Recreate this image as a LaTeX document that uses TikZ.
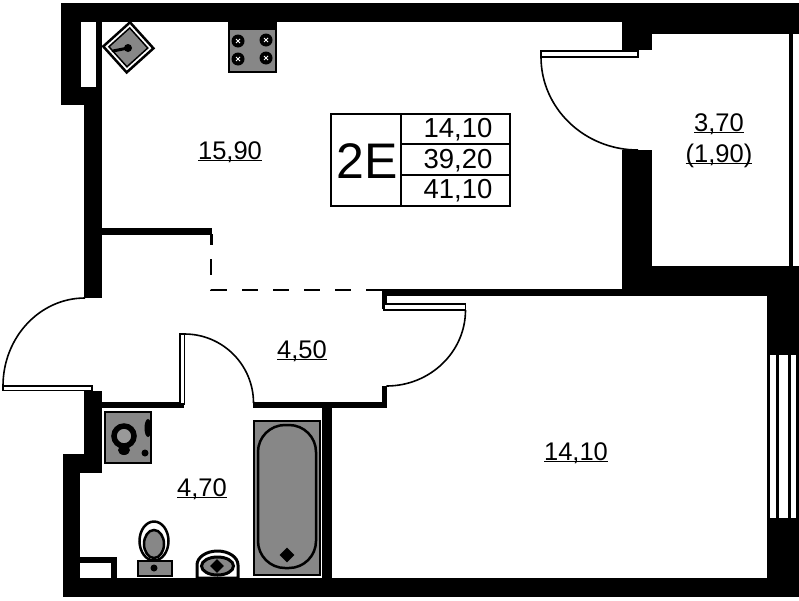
\documentclass[tikz,border=0pt]{standalone}
\usepackage{fontspec}
\setmainfont{Liberation Sans}
\usetikzlibrary{shapes.geometric}
\newcommand{\areatext}[1]{\underline{\smash{#1}}}
\begin{document}
\begin{tikzpicture}[
  x=1pt,
  y=-1pt,
  wall/.style={fill=black},
  leaf/.style={fill=white, draw=black, line width=1.5pt},
  swing/.style={draw=black, line width=1.6pt},
  fixture/.style={fill=black!47, draw=black, line width=1.5pt},
  burnermark/.style={draw=white, line width=0.8pt},
  area/.style={font=\fontsize{25.5}{28}\selectfont, inner sep=0pt},
  cellnum/.style={font=\fontsize{27.5}{28}\selectfont, inner sep=0pt}
]
\useasboundingbox (0,0) rectangle (799,600);
\fill[white] (0,0) rectangle (799,600);
\fill[wall] (61,3) rectangle (799,22);
\fill[wall] (622,22) rectangle (799,34);
\fill[wall] (622,34) rectangle (652,50);
\fill[wall] (622,150) rectangle (652,296);
\fill[wall] (652,266) rectangle (799,296);
\fill[wall] (789,34) rectangle (793,266);
\fill[wall] (61,22) rectangle (81,105);
\fill[wall] (96,22) rectangle (102,105);
\fill[wall] (81,87) rectangle (96,105);
\fill[wall] (84,105) rectangle (102,298);
\fill[wall] (102,228) rectangle (212,234.5);
\fill[wall] (210,234) rectangle (212.5,245);
\fill[wall] (84,391) rectangle (102,473);
\fill[wall] (63,454) rectangle (84,473);
\fill[wall] (63,473) rectangle (80,597);
\fill[wall] (63,578) rectangle (799,597);
\fill[wall] (80,557) rectangle (117,563);
\fill[wall] (111,563) rectangle (117,578);
\fill[wall] (102,402) rectangle (184,408);
\fill[wall] (253,402) rectangle (387,408);
\fill[wall] (322,408) rectangle (332,578);
\fill[wall] (382,289) rectangle (767,296);
\fill[wall] (382,296) rectangle (387,309);
\fill[wall] (382,386) rectangle (387,402);
\fill[wall] (767,296) rectangle (799,355);
\fill[wall] (767,518) rectangle (799,578);
\fill[wall] (767,355) rectangle (770,518);
\fill[wall] (776,355) rectangle (779,518);
\fill[wall] (787.5,355) rectangle (790.5,518);
\fill[wall] (796,355) rectangle (799,518);
\draw[line width=1.5pt, dash pattern=on 16pt off 15pt] (211,259) -- (211,290) -- (382,290);
\filldraw[leaf] (541,51) rectangle (638,57);
\draw[swing] (541,57) arc (180:90:97 and 93);
\filldraw[leaf] (384,304) rectangle (465.5,310);
\draw[swing] (465.5,310) arc (0:90:79 and 76);
\filldraw[leaf] (3,386) rectangle (92,390.5);
\draw[swing] (3,386) arc (180:270:82 and 88);
\filldraw[leaf] (180,334) rectangle (184.5,404);
\draw[swing] (184.5,334) arc (270:360:69);
\filldraw[fill=white, draw=black, line width=2.5pt, rotate around={42:(128,47)}] (110,30) rectangle (146,65);
\filldraw[fixture, rotate around={42:(128,47)}] (114,34) rectangle (142,61);
\draw[line width=3pt, line cap=round] (113,51) -- (128,48);
\fill (128,48) circle (4);
\filldraw[fixture] (229,23) rectangle (276,72);
\fill[wall] (228,22) rectangle (277,30);
\fill (238,41) circle (6.5);
\fill (266,40) circle (6.5);
\fill (238,59) circle (6.5);
\fill (266,58) circle (6.5);
\draw[burnermark] (236,39) -- (240,43) (236,43) -- (240,39);
\draw[burnermark] (264,38) -- (268,42) (264,42) -- (268,38);
\draw[burnermark] (236,57) -- (240,61) (236,61) -- (240,57);
\draw[burnermark] (264,56) -- (268,60) (264,60) -- (268,56);
\filldraw[fixture] (105,412) rectangle (151,463);
\draw[line width=5.5pt, fill=black!40] (124,436) circle (10);
\fill (124,450) ellipse (6 and 5);
\fill (145,453) circle (3.5);
\fill (148,428) ellipse (3.5 and 9);
\filldraw[fixture] (254,421) rectangle (320,575);
\draw[line width=2.5pt, rounded corners=27pt] (258,425) rectangle (316,568);
\node[diamond, fill=black, minimum size=15pt, inner sep=0pt] (bathplug) at (287,555) {};
\filldraw[fill=white, draw=black, line width=2.5pt] (154,541) ellipse (14.5 and 19.5);
\filldraw[fixture, line width=2.5pt] (154,544) ellipse (10 and 14);
\filldraw[fixture] (138,561) rectangle (172,576);
\fill (154,568) circle (3.5);
\filldraw[fill=white, draw=black, line width=3pt] (197,578) -- (197,565) arc (180:360:20.5 and 14) -- (238,578) -- cycle;
\filldraw[fixture, line width=3pt] (217.5,566) ellipse (16 and 9);
\node[diamond, fill=black, minimum size=14pt, inner sep=0pt] (sinkplug) at (217,566) {};
\fill[wall] (195,578) rectangle (239,597);
\draw[line width=1.5pt] (331,114) rectangle (510,206);
\draw[line width=1.5pt] (401,114) -- (401,206);
\draw[line width=2pt] (401,144) -- (510,144);
\draw[line width=1.5pt] (401,175) -- (510,175);
\node[font=\fontsize{50}{54}\selectfont, inner sep=0pt] (flatcode) at (367,161) {2E};
\node[cellnum] (arealiving) at (458,130) {14,10};
\node[cellnum] (areaflat) at (458,161) {39,20};
\node[cellnum] (areatotal) at (458,191) {41,10};
\node[area] (kitchen) at (230,160) {\areatext{15,90}};
\node[area] (hall) at (302,359) {\areatext{4,50}};
\node[area] (bath) at (202,497) {\areatext{4,70}};
\node[area] (bedroom) at (576,461) {\areatext{14,10}};
\node[area] (balcony) at (719,132) {\areatext{3,70}};
\node[area] (balconynet) at (719,163) {\areatext{(1,90)}};
\end{tikzpicture}
\end{document}
